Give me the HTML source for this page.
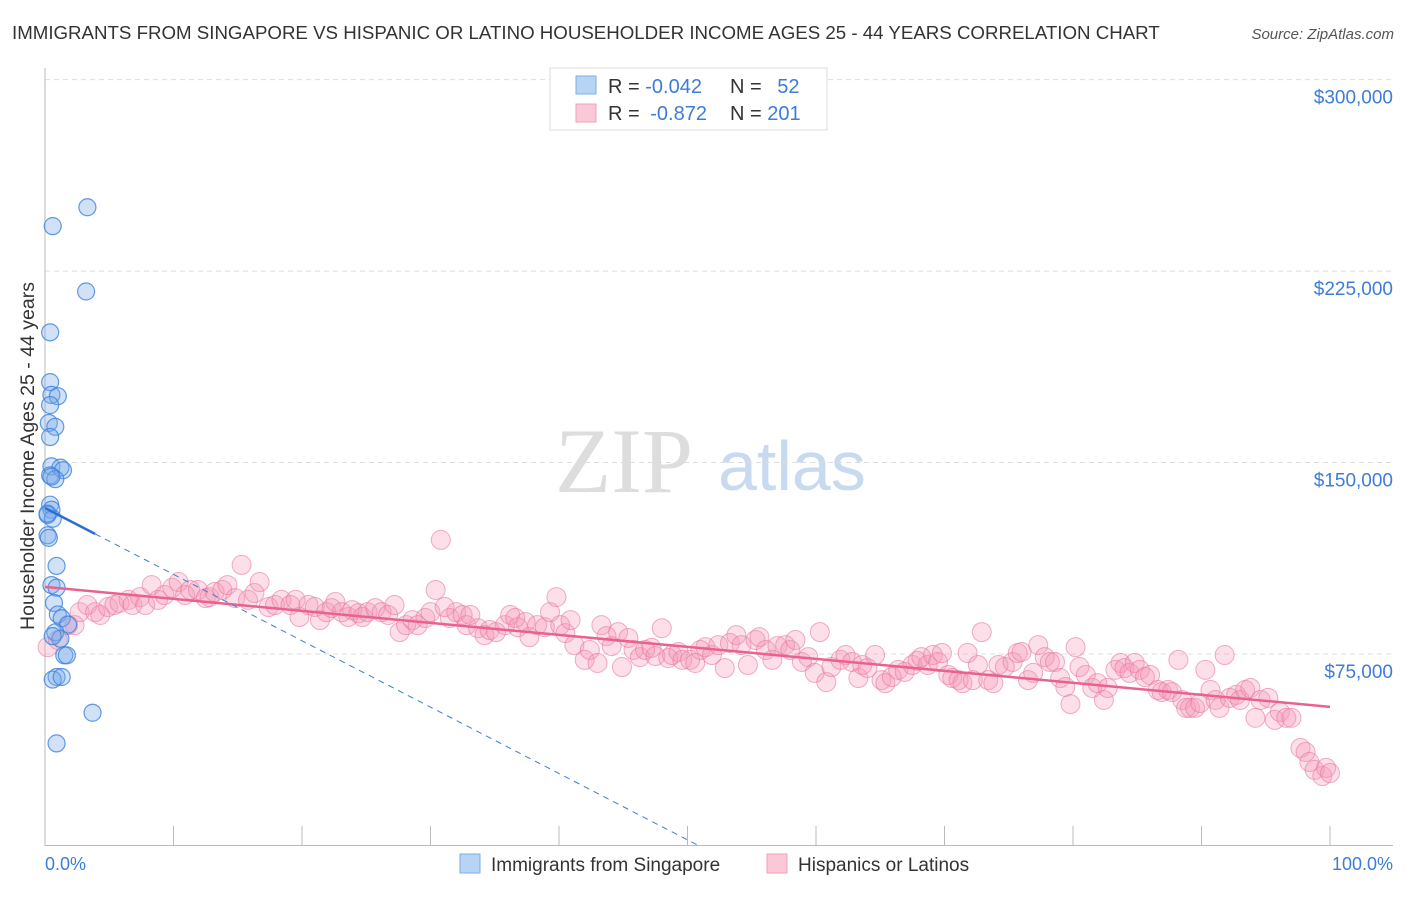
<!DOCTYPE html>
<html><head><meta charset="utf-8"><style>
body{margin:0;background:#fff;font-family:"Liberation Sans",sans-serif;}
</style></head><body>
<svg id="c" width="1406" height="892" xmlns="http://www.w3.org/2000/svg" style="font-family:'Liberation Sans',sans-serif">
<text x="12" y="39" font-size="18.7" fill="#333">IMMIGRANTS FROM SINGAPORE VS HISPANIC OR LATINO HOUSEHOLDER INCOME AGES 25 - 44 YEARS CORRELATION CHART</text>
<text x="1394" y="39" font-size="15" fill="#555" font-style="italic" text-anchor="end">Source: ZipAtlas.com</text>
<text x="555" y="492" font-size="92" fill="#ddd" font-family="Liberation Serif">ZIP</text>
<text x="718" y="490" font-size="70" fill="#c8daf0">atlas</text>
<g id="grid"></g><g id="axes"></g><g id="pink"></g><g id="blue"></g><g id="trend"></g>
<text transform="translate(34,456) rotate(-90)" font-size="19.5" fill="#333" text-anchor="middle">Householder Income Ages 25 - 44 years</text>
<text x="45" y="870" font-size="18" fill="#3d7dd8">0.0%</text>
<text x="1393" y="870" font-size="18" fill="#3d7dd8" text-anchor="end">100.0%</text>
<g>
<rect x="550" y="68" width="277" height="62" fill="#fff" stroke="#ddd"/>
<rect x="576" y="76" width="20" height="18" fill="#b8d4f5" stroke="#7aaee8"/>
<rect x="576" y="104" width="20" height="18" fill="#fbc8d8" stroke="#f0a0bb"/>
<text x="608" y="93" font-size="20" fill="#333">R = <tspan fill="#3d7dd8">-0.042</tspan></text>
<text x="730" y="93" font-size="20" fill="#333">N = <tspan fill="#3d7dd8" dx="10">52</tspan></text>
<text x="608" y="120" font-size="20" fill="#333">R = <tspan fill="#3d7dd8" dx="5">-0.872</tspan></text>
<text x="730" y="120" font-size="20" fill="#333">N = <tspan fill="#3d7dd8">201</tspan></text>
</g>
<g>
<rect x="460" y="854" width="20" height="19" fill="#b8d4f5" stroke="#7aaee8"/>
<text x="491" y="871" font-size="19" fill="#333">Immigrants from Singapore</text>
<rect x="767" y="854" width="20" height="19" fill="#fbc8d8" stroke="#f0a0bb"/>
<text x="798" y="871" font-size="19" fill="#333">Hispanics or Latinos</text>
</g>
</svg>
<script>
const yTicks=[75,150,225,300];
const yTickLabels=["$75,000","$150,000","$225,000","$300,000"];
const xTicks=[0,10,20,30,40,50,60,70,80,90,100];
const blueX=[3.3,0.6,3.2,0.4,0.4,0.5,1,0.4,0.3,0.8,0.4,0.5,1.2,1.4,0.4,0.8,0.4,0.5,0.2,0.6,0.2,0.9,0.5,0.9,0.7,1,1.3,1.8,0.8,1.2,1.5,1.7,0.9,0.6,1.3,3.7,0.9,0.3,0.5,0.2,0.6];
const blueY=[250,242.6,217,201,181.5,176.5,176,172.5,165.5,164,160,148.5,148,147,145,143.5,133.5,131.5,129.5,128,121.5,109.5,102,101,95,90.5,89,86.5,83.5,81,74.5,74.5,66,65,66,52,40,120.5,144.5,130,82];
const pinkX=[0.2,1.0,1.8,2.3,2.7,3.3,3.9,4.3,4.9,5.4,5.8,6.5,6.8,7.4,7.8,8.3,8.8,9.3,9.9,10.4,10.9,11.3,11.9,12.5,12.8,13.2,13.8,14.2,14.8,15.3,15.8,16.3,16.7,17.4,17.9,18.4,19.1,19.5,19.8,20.5,21.0,21.4,21.9,22.3,22.6,23.1,23.6,23.9,24.4,24.7,25.1,25.7,26.2,26.7,27.2,27.6,28.1,28.6,29.0,29.6,30.0,30.4,30.8,31.1,31.5,32.0,32.5,32.8,33.1,33.7,34.2,34.6,35.1,35.8,36.2,36.6,36.8,37.4,37.7,38.3,38.9,39.3,39.8,40.1,40.5,40.9,41.2,42.0,42.4,43.0,43.3,43.7,44.1,44.6,44.9,45.4,45.8,46.3,46.7,47.2,47.5,48.0,48.5,48.8,49.3,49.6,50.2,50.6,51.0,51.4,51.9,52.4,52.9,53.3,53.8,54.2,54.7,55.3,55.6,56.1,56.6,57.0,57.6,58.0,58.4,58.9,59.4,59.9,60.3,60.8,61.2,61.9,62.3,62.8,63.3,63.6,64.0,64.6,65.1,65.4,65.9,66.4,66.9,67.5,67.9,68.2,68.7,69.1,69.5,69.8,70.3,70.6,71.1,71.4,71.8,72.2,72.6,72.9,73.4,73.8,74.2,74.7,75.3,75.7,76.0,76.5,76.9,77.3,77.8,78.2,78.6,79.0,79.4,79.8,80.2,80.5,81.0,81.5,81.9,82.4,82.7,83.3,83.7,84.0,84.4,84.8,85.2,85.6,86.0,86.6,86.9,87.4,87.7,88.2,88.5,88.8,89.1,89.5,89.9,90.3,90.7,91.1,91.4,91.8,92.2,92.7,93.0,93.4,93.8,94.2,94.6,95.2,95.7,96.1,96.6,97.0,97.7,98.1,98.4,98.8,99.4,99.7,100];
const pinkY=[77.7,80.5,86.3,86.3,91.4,94.2,91.4,90.3,93.4,94.2,95,96.2,94.2,97.3,94.2,102,96.2,98.1,100.9,103.2,98.1,100.1,100.1,96.9,97.3,99.3,100.1,102,96.9,109.9,96.2,98.9,103.2,93.4,94.2,96.2,94.2,96.2,89.5,94.2,93.4,88.3,91.4,93,95.4,91.4,89.5,92.2,91,89.5,91.4,93,91.4,90.3,94.2,83.6,86.3,88.3,86.3,89.1,91.4,100.1,119.7,93.4,89.1,91.4,90.3,86.3,90.3,85.1,82.4,84.4,83.6,86.3,90.3,89.1,85.5,87.5,81.6,86.3,85.5,91.4,97.3,86.3,83.2,88.3,78.5,72.7,76.6,71.5,86.3,82,78.1,83.6,69.9,81.3,76.6,73.8,76.6,77.4,74.2,85.1,73.4,74.6,75.8,72.7,72.7,71.5,76.6,77.7,74.6,78.5,69.5,79.3,82.4,78.5,70.7,80.5,81.6,76.6,72.7,78.1,78.5,76.6,80.5,71.9,73.8,67.6,83.6,64,69.9,72.7,74.6,71.9,65.6,70.7,69.5,74.6,64.8,63.6,66,68.8,68,70.7,72.3,73.8,70.7,74.6,71.9,75.4,66.8,65.6,64.8,63.6,75.4,64.8,70.7,83.6,64.8,63.6,70.7,69.9,71.9,75.4,75.8,64.8,67.6,78.5,73.8,71.9,71.9,65.6,62.1,55.4,77.7,69.9,66.8,61.7,63.6,57,61.7,68.8,71.5,69.5,67.6,71.5,68.8,66,66.8,60.9,60.1,60.9,60.1,72.7,57,53.9,53.9,53.9,55.8,68.8,60.9,57,53.9,74.6,57.8,59,57,60.9,61.7,50,57,57.8,49.2,52.3,50,50,38.2,36.6,32.7,29.6,27.2,30.4,28.4];
const pinkTrend=[101.3,54.3]; // value at 0% and 100%
const blueTrend=[132.2,-2.6]; // intercept, slope per %
const blueSolidEnd=3.9;
const X0=45,X1=1330,Y0=845.5,PPK=2.553;
const xs=p=>X0+p*(X1-X0)/100, ys=v=>Y0-v*PPK;
const NS="http://www.w3.org/2000/svg";
function mk(t,a,parent){const e=document.createElementNS(NS,t);for(const k in a)e.setAttribute(k,a[k]);document.getElementById(parent).appendChild(e);return e;}
yTicks.forEach((v,i)=>{
 const l=mk('line',{x1:45,x2:1393,y1:ys(v),y2:ys(v),stroke:'#ddd','stroke-dasharray':'5,4'},'grid');
 
 
 const t=mk('text',{x:1393,y:ys(v)+24,'font-size':19,fill:'#3d7dd8','text-anchor':'end'},'grid');t.textContent=yTickLabels[i];
 
 
});
const ax=mk('line',{x1:45,x2:45,y1:68,y2:846,stroke:'#bbb'},'axes');


const bx=mk('line',{x1:45,x2:1393,y1:845.5,y2:845.5,stroke:'#bbb'},'axes');


xTicks.forEach(p=>{const t=mk('line',{x1:xs(p),x2:xs(p),y1:826,y2:846,stroke:'#bbb'},'axes');
 
 });
pinkX.forEach((p,i)=>{const c=mk('circle',{cx:xs(p),cy:ys(pinkY[i]),r:9.5,fill:'rgba(244,150,182,0.3)',stroke:'rgba(232,120,160,0.6)','stroke-width':1},'pink');
 
 });
blueX.forEach((p,i)=>{const c=mk('circle',{cx:xs(p),cy:ys(blueY[i]),r:8.5,fill:'rgba(120,170,235,0.35)',stroke:'rgba(60,130,220,0.8)','stroke-width':1.2},'blue');
 
 });
const pt=mk('line',{x1:xs(0),y1:ys(pinkTrend[0]),x2:xs(100),y2:ys(pinkTrend[1]),stroke:'#e8628e','stroke-width':2.5},'trend');


const bEnd=-blueTrend[0]/blueTrend[1];
const bd=mk('line',{x1:xs(blueSolidEnd),y1:ys(blueTrend[0]+blueTrend[1]*blueSolidEnd),x2:xs(bEnd),y2:ys(0),stroke:'#3d7dd8','stroke-width':1,'stroke-dasharray':'6,5'},'trend');


const bs=mk('line',{x1:xs(0),y1:ys(blueTrend[0]),x2:xs(blueSolidEnd),y2:ys(blueTrend[0]+blueTrend[1]*blueSolidEnd),stroke:'#2a6fd0','stroke-width':2.5},'trend');


</script>
</body></html>
